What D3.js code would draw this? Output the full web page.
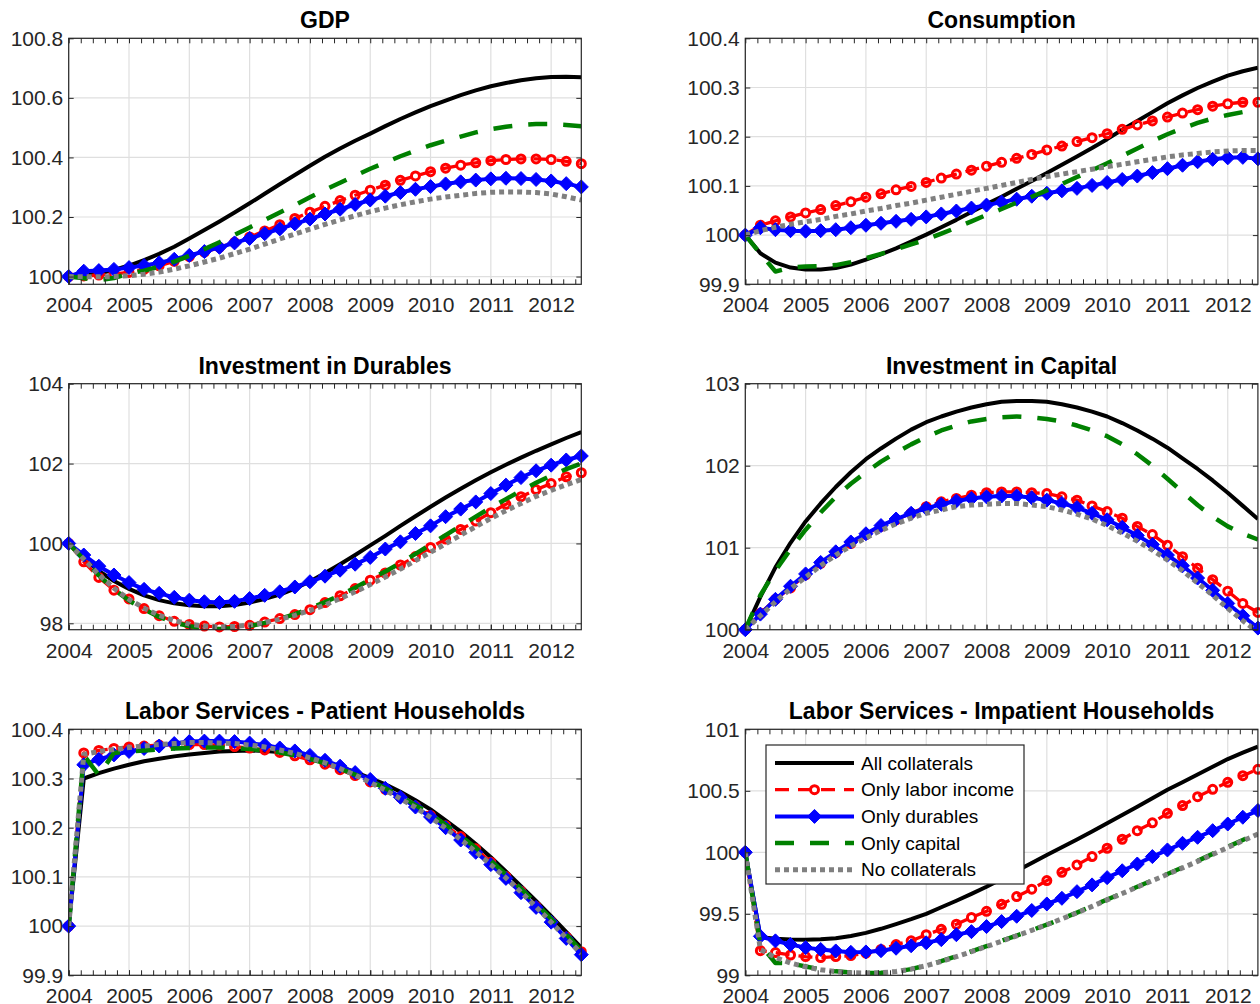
<!DOCTYPE html>
<html>
<head>
<meta charset="utf-8">
<title>Collateral scenarios</title>
<style>
  body { margin: 0; background: #fff; }
  svg { display: block; font-family: "Liberation Sans", Arial, Helvetica, sans-serif; }
</style>
</head>
<body>
<svg id="svg" width="1260" height="1004"></svg>
<script src="https://d3js.org/d3.v7.min.js"></script>
<script>
// quarterly dates, 2004Q1 .. 2012Q3
const quarters = [
  2004, 2004.25, 2004.5, 2004.75, 2005,
  2005.25, 2005.5, 2005.75, 2006, 2006.25,
  2006.5, 2006.75, 2007, 2007.25, 2007.5,
  2007.75, 2008, 2008.25, 2008.5, 2008.75,
  2009, 2009.25, 2009.5, 2009.75, 2010,
  2010.25, 2010.5, 2010.75, 2011, 2011.25,
  2011.5, 2011.75, 2012, 2012.25, 2012.5
]
const years = [2004, 2005, 2006, 2007, 2008, 2009, 2010, 2011, 2012]
const seriesNames = ['All collaterals', 'Only labor income', 'Only durables', 'Only capital', 'No collaterals']
const panelTitles = ['GDP', 'Consumption', 'Investment in Durables', 'Investment in Capital',
  'Labor Services - Patient Households', 'Labor Services - Impatient Households']

// GDP
const gdpAll = [
  100.000, 100.004, 100.011, 100.022, 100.037,
  100.055, 100.076, 100.100, 100.128, 100.156,
  100.185, 100.215, 100.246, 100.278, 100.310,
  100.341, 100.372, 100.402, 100.430, 100.456,
  100.480, 100.505, 100.529, 100.551, 100.572,
  100.591, 100.609, 100.625, 100.639, 100.650,
  100.659, 100.666, 100.670, 100.671, 100.669]
const gdpLabor = [
  100.000, 100.002, 100.005, 100.009, 100.014,
  100.024, 100.036, 100.051, 100.067, 100.082,
  100.098, 100.115, 100.133, 100.153, 100.174,
  100.195, 100.216, 100.236, 100.255, 100.273,
  100.290, 100.307, 100.323, 100.338, 100.352,
  100.364, 100.374, 100.382, 100.389, 100.393,
  100.395, 100.395, 100.393, 100.387, 100.379]
const gdpDurables = [
  100.000, 100.018, 100.020, 100.024, 100.030,
  100.037, 100.046, 100.058, 100.071, 100.084,
  100.098, 100.113, 100.128, 100.144, 100.160,
  100.177, 100.193, 100.210, 100.226, 100.242,
  100.257, 100.270, 100.282, 100.293, 100.302,
  100.311, 100.318, 100.324, 100.328, 100.330,
  100.329, 100.326, 100.321, 100.312, 100.301]
const gdpCapital = [
  100.000, 99.994, 99.988, 99.995, 100.010,
  100.020, 100.033, 100.050, 100.070, 100.092,
  100.115, 100.140, 100.165, 100.190, 100.215,
  100.240, 100.266, 100.291, 100.315, 100.339,
  100.362, 100.383, 100.404, 100.423, 100.441,
  100.456, 100.470, 100.484, 100.495, 100.503,
  100.509, 100.512, 100.512, 100.509, 100.505]
const gdpNone = [
  100.000, 99.999, 99.999, 100.000, 100.003,
  100.008, 100.015, 100.025, 100.036, 100.049,
  100.062, 100.077, 100.092, 100.109, 100.126,
  100.143, 100.159, 100.175, 100.190, 100.204,
  100.218, 100.230, 100.241, 100.251, 100.260,
  100.267, 100.273, 100.279, 100.283, 100.284,
  100.284, 100.282, 100.277, 100.268, 100.257]

// Consumption
const consAll = [
  100.000, 99.963, 99.944, 99.934, 99.930,
  99.930, 99.933, 99.940, 99.950, 99.961,
  99.973, 99.987, 100.001, 100.016, 100.031,
  100.047, 100.063, 100.078, 100.094, 100.110,
  100.126, 100.143, 100.160, 100.177, 100.195,
  100.214, 100.232, 100.250, 100.268, 100.284,
  100.299, 100.312, 100.324, 100.333, 100.340]
const consLabor = [
  100.000, 100.020, 100.029, 100.037, 100.045,
  100.052, 100.060, 100.068, 100.077, 100.084,
  100.092, 100.099, 100.107, 100.116, 100.124,
  100.132, 100.140, 100.148, 100.156, 100.164,
  100.173, 100.181, 100.190, 100.198, 100.206,
  100.215, 100.224, 100.232, 100.240, 100.248,
  100.255, 100.262, 100.267, 100.270, 100.270]
const consDurables = [
  100.000, 100.015, 100.011, 100.009, 100.008,
  100.009, 100.011, 100.015, 100.020, 100.024,
  100.028, 100.032, 100.037, 100.043, 100.049,
  100.055, 100.061, 100.067, 100.073, 100.079,
  100.085, 100.090, 100.095, 100.101, 100.107,
  100.113, 100.120, 100.127, 100.135, 100.142,
  100.149, 100.154, 100.157, 100.158, 100.155]
const consCapital = [
  100.000, 99.962, 99.926, 99.934, 99.936,
  99.937, 99.939, 99.945, 99.953, 99.962,
  99.971, 99.981, 99.991, 100.003, 100.015,
  100.028, 100.041, 100.053, 100.066, 100.078,
  100.091, 100.104, 100.118, 100.132, 100.146,
  100.161, 100.176, 100.191, 100.205, 100.217,
  100.228, 100.237, 100.244, 100.250, 100.254]
const consNone = [
  100.000, 100.009, 100.016, 100.022, 100.027,
  100.032, 100.038, 100.043, 100.049, 100.054,
  100.060, 100.065, 100.071, 100.077, 100.083,
  100.089, 100.095, 100.101, 100.107, 100.113,
  100.119, 100.124, 100.129, 100.134, 100.139,
  100.144, 100.149, 100.154, 100.159, 100.163,
  100.166, 100.169, 100.171, 100.172, 100.172]

// Investment in durables
const durAll = [
  100.00, 99.62, 99.31, 99.06, 98.86,
  98.70, 98.58, 98.50, 98.45, 98.43,
  98.43, 98.46, 98.52, 98.61, 98.72,
  98.87, 99.05, 99.26, 99.48, 99.71,
  99.95, 100.19, 100.44, 100.68, 100.92,
  101.15, 101.37, 101.58, 101.78, 101.97,
  102.15, 102.32, 102.48, 102.64, 102.79]
const durLabor = [
  100.00, 99.54, 99.15, 98.83, 98.61,
  98.37, 98.19, 98.05, 97.97, 97.93,
  97.91, 97.92, 97.95, 98.03, 98.12,
  98.22, 98.34, 98.52, 98.69, 98.87,
  99.08, 99.26, 99.46, 99.67, 99.90,
  100.11, 100.35, 100.56, 100.77, 100.98,
  101.17, 101.35, 101.50, 101.67, 101.77]
const durDurables = [
  100.00, 99.71, 99.43, 99.21, 99.02,
  98.85, 98.75, 98.65, 98.58, 98.54,
  98.52, 98.55, 98.62, 98.70, 98.79,
  98.91, 99.04, 99.18, 99.33, 99.48,
  99.65, 99.86, 100.04, 100.25, 100.44,
  100.67, 100.86, 101.04, 101.25, 101.46,
  101.65, 101.82, 101.96, 102.09, 102.19]
const durCapital = [
  100.00, 99.60, 99.20, 98.85, 98.57,
  98.35, 98.16, 98.02, 97.93, 97.88,
  97.86, 97.88, 97.93, 98.01, 98.11,
  98.23, 98.37, 98.53, 98.70, 98.89,
  99.10, 99.30, 99.51, 99.74, 99.97,
  100.21, 100.44, 100.67, 100.90, 101.11,
  101.32, 101.52, 101.70, 101.86, 102.00]
const durNone = [
  100.00, 99.61, 99.22, 98.88, 98.60,
  98.38, 98.20, 98.07, 97.98, 97.93,
  97.91, 97.92, 97.96, 98.02, 98.10,
  98.20, 98.32, 98.46, 98.62, 98.79,
  98.97, 99.16, 99.36, 99.57, 99.78,
  99.99, 100.21, 100.42, 100.63, 100.82,
  101.00, 101.18, 101.33, 101.47, 101.60]

// Investment in capital
const capAll = [
  100.00, 100.40, 100.76, 101.06, 101.32,
  101.54, 101.74, 101.92, 102.08, 102.21,
  102.33, 102.44, 102.53, 102.60, 102.66,
  102.71, 102.75, 102.78, 102.79, 102.79,
  102.78, 102.75, 102.71, 102.66, 102.60,
  102.52, 102.43, 102.33, 102.22, 102.09,
  101.96, 101.82, 101.67, 101.51, 101.35]
const capLabor = [
  100.00, 100.20, 100.37, 100.51, 100.67,
  100.81, 100.94, 101.05, 101.16, 101.26,
  101.34, 101.42, 101.50, 101.56, 101.60,
  101.64, 101.67, 101.68, 101.68, 101.67,
  101.66, 101.62, 101.58, 101.51, 101.44,
  101.36, 101.26, 101.16, 101.03, 100.89,
  100.75, 100.61, 100.47, 100.32, 100.21]
const capDurables = [
  100.00, 100.19, 100.37, 100.53, 100.68,
  100.82, 100.95, 101.07, 101.17, 101.27,
  101.35, 101.42, 101.48, 101.53, 101.57,
  101.60, 101.62, 101.63, 101.63, 101.61,
  101.58, 101.54, 101.49, 101.42, 101.34,
  101.25, 101.15, 101.04, 100.91, 100.78,
  100.63, 100.48, 100.32, 100.17, 100.02]
const capCapital = [
  100.00, 100.42, 100.72, 100.98, 101.22,
  101.43, 101.62, 101.78, 101.92, 102.05,
  102.16, 102.26, 102.35, 102.43, 102.49,
  102.54, 102.57, 102.59, 102.60, 102.59,
  102.57, 102.54, 102.49, 102.43, 102.36,
  102.26, 102.14, 102.00, 101.84, 101.68,
  101.52, 101.38, 101.26, 101.17, 101.10]
const capNone = [
  100.00, 100.17, 100.34, 100.50, 100.64,
  100.78, 100.91, 101.02, 101.12, 101.21,
  101.29, 101.36, 101.42, 101.46, 101.50,
  101.52, 101.53, 101.54, 101.54, 101.52,
  101.50, 101.46, 101.41, 101.35, 101.27,
  101.18, 101.08, 100.97, 100.85, 100.72,
  100.57, 100.42, 100.26, 100.11, 99.97]

// Labor services, patient households
const patAll = [
  100.000, 100.300, 100.311, 100.320, 100.328,
  100.335, 100.340, 100.345, 100.349, 100.352,
  100.355, 100.356, 100.357, 100.356, 100.354,
  100.349, 100.342, 100.334, 100.324, 100.313,
  100.301, 100.288, 100.273, 100.256, 100.237,
  100.215, 100.192, 100.167, 100.140, 100.111,
  100.081, 100.051, 100.020, 99.988, 99.956]
const patLabor = [
  100.000, 100.352, 100.357, 100.361, 100.364,
  100.366, 100.368, 100.369, 100.369, 100.369,
  100.368, 100.365, 100.362, 100.358, 100.353,
  100.346, 100.338, 100.329, 100.318, 100.306,
  100.293, 100.278, 100.262, 100.244, 100.225,
  100.204, 100.182, 100.157, 100.130, 100.101,
  100.071, 100.040, 100.009, 99.978, 99.948]
const patDurables = [
  100.000, 100.328, 100.339, 100.348, 100.355,
  100.361, 100.366, 100.371, 100.375, 100.376,
  100.376, 100.375, 100.372, 100.368, 100.362,
  100.356, 100.347, 100.337, 100.325, 100.312,
  100.298, 100.280, 100.262, 100.242, 100.222,
  100.200, 100.175, 100.150, 100.125, 100.097,
  100.068, 100.038, 100.008, 99.975, 99.942]
const patCapital = [
  100.000, 100.347, 100.307, 100.352, 100.355,
  100.357, 100.359, 100.361, 100.362, 100.363,
  100.363, 100.362, 100.360, 100.357, 100.353,
  100.347, 100.340, 100.331, 100.320, 100.308,
  100.295, 100.280, 100.264, 100.246, 100.227,
  100.206, 100.183, 100.159, 100.133, 100.105,
  100.076, 100.046, 100.015, 99.983, 99.950]
const patNone = [
  100.000, 100.349, 100.355, 100.359, 100.363,
  100.366, 100.369, 100.371, 100.373, 100.373,
  100.372, 100.371, 100.368, 100.364, 100.358,
  100.351, 100.342, 100.332, 100.320, 100.307,
  100.292, 100.276, 100.259, 100.241, 100.221,
  100.199, 100.176, 100.151, 100.125, 100.098,
  100.069, 100.039, 100.008, 99.976, 99.944]

// Labor services, impatient households
const impAll = [
  100.000, 99.310, 99.298, 99.292, 99.290,
  99.293, 99.302, 99.320, 99.345, 99.378,
  99.416, 99.456, 99.500, 99.553, 99.606,
  99.662, 99.720, 99.783, 99.848, 99.913,
  99.978, 100.041, 100.104, 100.169, 100.236,
  100.303, 100.370, 100.439, 100.508, 100.570,
  100.632, 100.695, 100.758, 100.810, 100.860]
const impLabor = [
  100.000, 99.200, 99.185, 99.165, 99.152,
  99.144, 99.152, 99.160, 99.180, 99.210,
  99.250, 99.280, 99.330, 99.374, 99.415,
  99.470, 99.520, 99.577, 99.640, 99.700,
  99.770, 99.837, 99.897, 99.965, 100.033,
  100.106, 100.176, 100.240, 100.317, 100.380,
  100.452, 100.512, 100.569, 100.623, 100.675]
const impDurables = [
  100.000, 99.317, 99.280, 99.250, 99.225,
  99.210, 99.198, 99.187, 99.190, 99.200,
  99.220, 99.240, 99.264, 99.290, 99.330,
  99.355, 99.396, 99.437, 99.480, 99.527,
  99.580, 99.626, 99.680, 99.735, 99.794,
  99.850, 99.905, 99.965, 100.019, 100.073,
  100.122, 100.176, 100.230, 100.285, 100.340]
const impCapital = [
  100.000, 99.250, 99.100, 99.098, 99.072,
  99.048, 99.032, 99.022, 99.018, 99.020,
  99.030, 99.050, 99.080, 99.115, 99.155,
  99.195, 99.237, 99.280, 99.323, 99.367,
  99.412, 99.460, 99.510, 99.563, 99.616,
  99.668, 99.720, 99.772, 99.824, 99.877,
  99.930, 99.987, 100.044, 100.100, 100.155]
const impNone = [
  100.000, 99.210, 99.145, 99.100, 99.068,
  99.045, 99.030, 99.021, 99.018, 99.021,
  99.031, 99.050, 99.078, 99.112, 99.151,
  99.192, 99.234, 99.277, 99.321, 99.366,
  99.411, 99.459, 99.508, 99.560, 99.613,
  99.665, 99.717, 99.769, 99.821, 99.873,
  99.926, 99.982, 100.039, 100.094, 100.148]

// y limits and ticks per panel
const yLimits = [[99.974, 100.8], [99.9, 100.4], [97.84, 104], [100, 103], [99.9, 100.4], [99, 101]]
const yTickValues = [
  [100, 100.2, 100.4, 100.6, 100.8],
  [99.9, 100, 100.1, 100.2, 100.3, 100.4],
  [98, 100, 102, 104],
  [100, 101, 102, 103],
  [99.9, 100, 100.1, 100.2, 100.3, 100.4],
  [99, 99.5, 100, 100.5, 101]
]

const panelSeries = [
  [gdpAll, gdpLabor, gdpDurables, gdpCapital, gdpNone],
  [consAll, consLabor, consDurables, consCapital, consNone],
  [durAll, durLabor, durDurables, durCapital, durNone],
  [capAll, capLabor, capDurables, capCapital, capNone],
  [patAll, patLabor, patDurables, patCapital, patNone],
  [impAll, impLabor, impDurables, impCapital, impNone]
]

// line styles (MATLAB look)
const styles = [
  { color: '#000000', width: 4, dash: null, marker: null },
  { color: '#ff0000', width: 3.3, dash: '14 9', marker: 'circle' },
  { color: '#0000ff', width: 4, dash: null, marker: 'diamond' },
  { color: '#008000', width: 4.5, dash: '19 16', marker: null },
  { color: '#808080', width: 5, dash: '5 4', marker: null }
]

const colX = [68.7, 745.3]
const rowY = [38.3, 383.7, 729.3]
const plotW = 512.6
const plotH = 246
const axisColor = '#262626'
const gridColor = '#dfdfdf'
const tickLen = 5

const svg = d3.select('#svg')
svg.append('rect').attr('width', 1260).attr('height', 1004).attr('fill', '#fff')

const diamondPath = 'M0,-7L7,0L0,7L-7,0Z'
const minorTicks = d3.range(2004, 2012.51, 0.2)

panelTitles.forEach((title, p) => {
  const g = svg.append('g')
    .attr('transform', `translate(${colX[p % 2]},${rowY[Math.floor(p / 2)]})`)

  const x = d3.scaleLinear().domain([2004, 2012.5]).range([0, plotW])
  const y = d3.scaleLinear().domain(yLimits[p]).range([plotH, 0])

  // grid
  g.append('g').selectAll('line').data(years).enter().append('line')
    .attr('x1', d => x(d)).attr('x2', d => x(d))
    .attr('y1', 0).attr('y2', plotH)
    .attr('stroke', gridColor).attr('stroke-width', 1.2)
  g.append('g').selectAll('line').data(yTickValues[p]).enter().append('line')
    .attr('x1', 0).attr('x2', plotW)
    .attr('y1', d => y(d)).attr('y2', d => y(d))
    .attr('stroke', gridColor).attr('stroke-width', 1.2)

  // clip for lines
  const clipId = 'clip' + p
  g.append('clipPath').attr('id', clipId)
    .append('rect').attr('width', plotW).attr('height', plotH)

  const line = d3.line().x((d, i) => x(quarters[i])).y(d => y(d))

  panelSeries[p].forEach((values, s) => {
    const st = styles[s]
    g.append('path')
      .datum(values)
      .attr('clip-path', `url(#${clipId})`)
      .attr('d', line)
      .attr('fill', 'none')
      .attr('stroke', st.color)
      .attr('stroke-width', st.width)
      .attr('stroke-dasharray', st.dash)
      .attr('stroke-linejoin', 'round')

    if (st.marker === 'circle') {
      g.append('g').selectAll('circle').data(values).enter().append('circle')
        .attr('cx', (d, i) => x(quarters[i]))
        .attr('cy', d => y(d))
        .attr('r', 4)
        .attr('fill', 'none')
        .attr('stroke', st.color)
        .attr('stroke-width', 3)
    } else if (st.marker === 'diamond') {
      g.append('g').selectAll('path').data(values).enter().append('path')
        .attr('d', diamondPath)
        .attr('transform', (d, i) => `translate(${x(quarters[i])},${y(d)})`)
        .attr('fill', st.color)
        .attr('stroke', st.color)
        .attr('stroke-width', 1)
    }
  })

  // axes
  const xBottom = g.append('g').attr('transform', `translate(0,${plotH})`)
    .call(d3.axisBottom(x).tickValues(years).tickSize(-tickLen).tickSizeOuter(0)
      .tickPadding(13).tickFormat(d3.format('d')))
  const xBottomMinor = g.append('g').attr('transform', `translate(0,${plotH})`)
    .call(d3.axisBottom(x).tickValues(minorTicks).tickSize(-tickLen).tickSizeOuter(0).tickFormat(''))
  const xTop = g.append('g')
    .call(d3.axisTop(x).tickValues(minorTicks).tickSize(-tickLen).tickSizeOuter(0).tickFormat(''))
  const yLeft = g.append('g')
    .call(d3.axisLeft(y).tickValues(yTickValues[p]).tickSize(-tickLen).tickSizeOuter(0)
      .tickPadding(5.5).tickFormat(d3.format('~g')))
  const yRight = g.append('g').attr('transform', `translate(${plotW},0)`)
    .call(d3.axisRight(y).tickValues(yTickValues[p]).tickSize(-tickLen).tickSizeOuter(0).tickFormat(''))

  ;[xBottom, xBottomMinor, xTop, yLeft, yRight].forEach(a => {
    a.select('.domain').remove()
    a.selectAll('.tick line').attr('stroke', axisColor).attr('stroke-width', 1)
    a.selectAll('text')
      .attr('fill', axisColor)
      .attr('font-size', 21)
      .attr('font-family', '"Liberation Sans", Arial, Helvetica, sans-serif')
  })

  g.append('rect')
    .attr('width', plotW).attr('height', plotH)
    .attr('fill', 'none').attr('stroke', axisColor).attr('stroke-width', 1.2)

  g.append('text')
    .attr('x', plotW / 2).attr('y', -10)
    .attr('text-anchor', 'middle')
    .attr('font-size', 23).attr('font-weight', 'bold')
    .attr('fill', '#000')
    .text(title)

  // legend in the last panel
  if (p === 5) {
    const lg = g.append('g').attr('transform', 'translate(20.7,15.7)')
    lg.append('rect').attr('width', 258).attr('height', 139)
      .attr('fill', '#fff').attr('stroke', axisColor).attr('stroke-width', 1.2)
    seriesNames.forEach((name, s) => {
      const st = styles[s]
      const ry = 18 + s * 26.7
      lg.append('line')
        .attr('x1', 9).attr('x2', 88).attr('y1', ry).attr('y2', ry)
        .attr('stroke', st.color).attr('stroke-width', st.width)
        .attr('stroke-dasharray', st.dash)
      if (st.marker === 'circle') {
        lg.append('circle').attr('cx', 48.5).attr('cy', ry).attr('r', 4)
          .attr('fill', '#fff').attr('stroke', st.color).attr('stroke-width', 3)
      } else if (st.marker === 'diamond') {
        lg.append('path').attr('d', diamondPath)
          .attr('transform', `translate(48.5,${ry})`)
          .attr('fill', st.color).attr('stroke', st.color)
      }
      lg.append('text')
        .attr('x', 95).attr('y', ry).attr('dy', '0.35em')
        .attr('font-size', 19).attr('fill', '#000')
        .text(name)
    })
  }
})
</script>
</body>
</html>
